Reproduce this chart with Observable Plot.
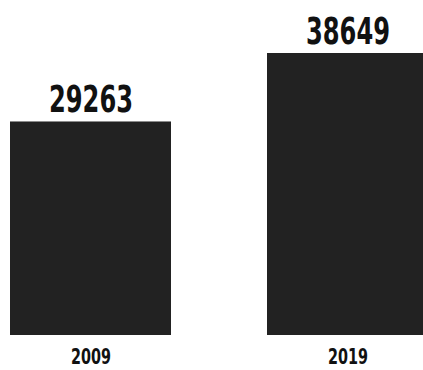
<!DOCTYPE html>
<html>
<head>
<meta charset="utf-8">
<script src="https://cdn.jsdelivr.net/npm/d3@7"></script>
<script src="https://cdn.jsdelivr.net/npm/@observablehq/plot@0.6"></script>
<style>
  html, body { margin: 0; padding: 0; background: #fff; overflow: hidden; }
</style>
</head>
<body>
<div id="chart"></div>
<script>
const years = ["2009", "2019"];
const values = [29263, 38649];

const data = years.map((y, i) => ({year: y, value: values[i]}));
const font = "'DejaVu Sans Condensed', 'DejaVu Sans', sans-serif";

const chart = Plot.plot({
  width: 423,
  height: 370,
  marginTop: 53,
  marginBottom: 35,
  marginLeft: 10,
  marginRight: 0,
  style: {background: "#fff", fontFamily: font, overflow: "hidden"},
  x: {domain: years, range: [10, 429], paddingInner: 0.372, paddingOuter: 0, label: null},
  y: {domain: [0, 38649], axis: null},
  marks: [
    Plot.barY(data, {x: "year", y: "value", fill: "#222222"}),
    Plot.text(data, {x: "year", y: "value", text: d => String(d.value), lineAnchor: "bottom", dy: -10,
      fontSize: 37, fontWeight: "bold", fill: "#111", fontFamily: font}),
    Plot.axisX({tickSize: 0, tickPadding: 13, fontSize: 22, fontWeight: "bold", color: "#111", fontFamily: font, label: null})
  ]
});
// condense the glyphs horizontally to mimic the narrow typeface of the reference
d3.select(chart).selectAll("text").each(function () {
  const t = this.getAttribute("transform");
  if (t) {
    this.setAttribute("transform", t + " scale(0.726,1)");
  } else {
    const x = +this.getAttribute("x") || 0;
    this.setAttribute("transform", `translate(${x},0) scale(0.726,1) translate(${-x},0)`);
  }
});
document.getElementById("chart").appendChild(chart);
</script>
</body>
</html>
